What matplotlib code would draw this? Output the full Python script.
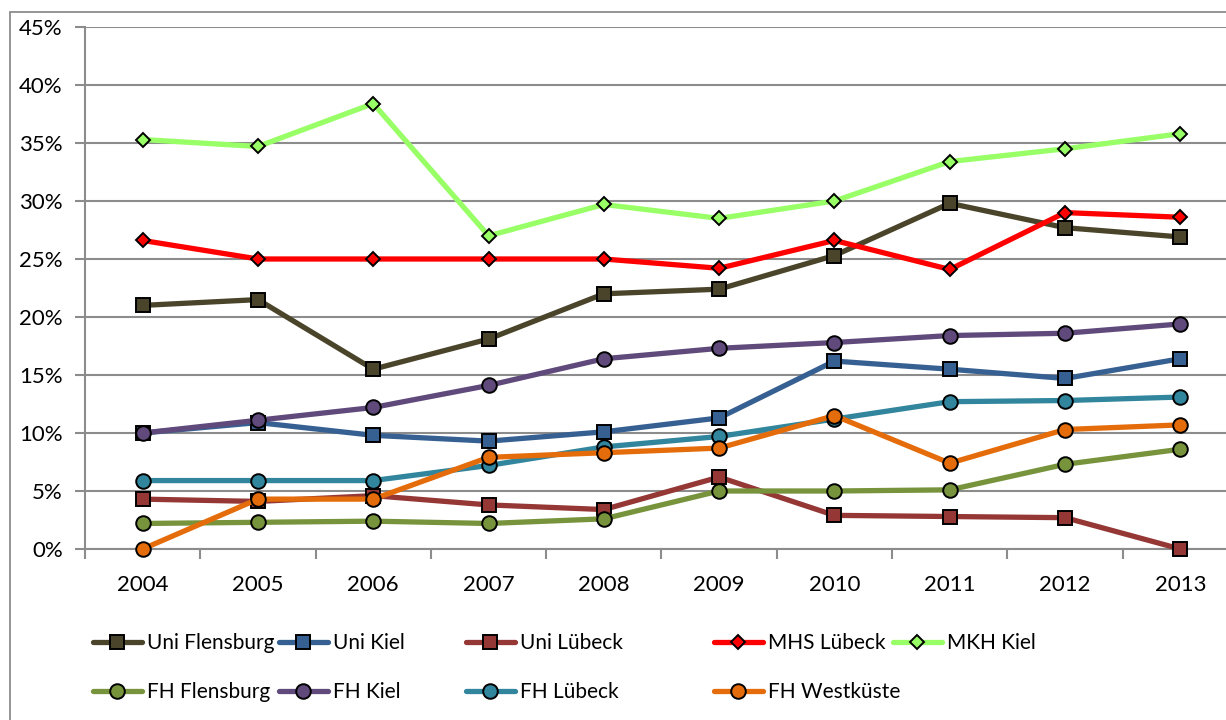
import matplotlib
matplotlib.use("Agg")
import matplotlib.pyplot as plt
from matplotlib.lines import Line2D
from matplotlib.patches import Rectangle
from matplotlib.ticker import FixedLocator, FuncFormatter

plt.rcParams['font.family'] = ['Lato', 'DejaVu Sans']

years = ["2004", "2005", "2006", "2007", "2008", "2009", "2010", "2011", "2012", "2013"]
y_ticks = [0, 5, 10, 15, 20, 25, 30, 35, 40, 45]

uni_flensburg = [21.0, 21.5, 15.5, 18.1, 22.0, 22.4, 25.3, 29.8, 27.7, 26.9]
uni_kiel = [10.0, 10.9, 9.8, 9.3, 10.1, 11.3, 16.2, 15.5, 14.7, 16.4]
uni_luebeck = [4.3, 4.1, 4.6, 3.8, 3.4, 6.2, 2.9, 2.8, 2.7, 0.0]
mhs_luebeck = [26.6, 25.0, 25.0, 25.0, 25.0, 24.2, 26.6, 24.1, 29.0, 28.6]
mkh_kiel = [35.3, 34.7, 38.4, 27.0, 29.7, 28.5, 30.0, 33.4, 34.5, 35.8]
fh_flensburg = [2.2, 2.3, 2.4, 2.2, 2.6, 5.0, 5.0, 5.1, 7.3, 8.6]
fh_kiel = [10.0, 11.1, 12.2, 14.1, 16.4, 17.3, 17.8, 18.4, 18.6, 19.4]
fh_luebeck = [5.9, 5.9, 5.9, 7.2, 8.8, 9.7, 11.2, 12.7, 12.8, 13.1]
fh_westkueste = [0.0, 4.3, 4.3, 7.9, 8.3, 8.7, 11.5, 7.4, 10.3, 10.7]

series = [
    ("Uni Flensburg", uni_flensburg, "#4A452A", "s"),
    ("Uni Kiel", uni_kiel, "#376092", "s"),
    ("Uni Lübeck", uni_luebeck, "#953735", "s"),
    ("MHS Lübeck", mhs_luebeck, "#FF0000", "D"),
    ("MKH Kiel", mkh_kiel, "#99FF66", "D"),
    ("FH Flensburg", fh_flensburg, "#77933C", "o"),
    ("FH Kiel", fh_kiel, "#604A7B", "o"),
    ("FH Lübeck", fh_luebeck, "#31859C", "o"),
    ("FH Westküste", fh_westkueste, "#E46C0A", "o"),
]

W, H = 1226, 720
fig = plt.figure(figsize=(W / 100, H / 100), dpi=100)
ax = fig.add_axes([85 / W, (H - 549) / H, 1153 / W, 522 / H])

msize = {"s": 10, "D": 7.5, "o": 10.5}
handles = []
x = list(range(len(years)))
for name, vals, color, mk in series:
    ax.plot(x, vals, color=color, lw=3.8, marker=mk, markersize=msize[mk],
            markerfacecolor=color, markeredgecolor="black", markeredgewidth=1.4,
            solid_joinstyle="round", clip_on=False, zorder=3)
    handles.append(Line2D([], [], color=color, lw=3.8, marker=mk, markersize=msize[mk],
                          markerfacecolor=color, markeredgecolor="black",
                          markeredgewidth=1.4, solid_capstyle="round"))

grid_c = "#8C8C8C"
ax.set_ylim(0, 45)
ax.set_xlim(-0.5, len(years) - 0.5)
ax.yaxis.set_major_locator(FixedLocator(y_ticks))
ax.yaxis.set_major_formatter(FuncFormatter(lambda v, p: f"{int(v)}%"))
ax.grid(axis="y", color=grid_c, lw=1.5, zorder=0)
ax.set_axisbelow(True)

ax.xaxis.set_major_locator(FixedLocator([i - 0.5 for i in range(len(years) + 1)]))
ax.xaxis.set_major_formatter(FuncFormatter(lambda v, p: ""))
ax.xaxis.set_minor_locator(FixedLocator(x))
ax.set_xticklabels(years, minor=True)
ax.tick_params(axis="x", which="major", length=7, width=1.5, color=grid_c, direction="out")
ax.tick_params(axis="x", which="minor", length=0, pad=19, labelsize=16)
ax.tick_params(axis="y", length=7, width=1.5, color=grid_c, pad=9, labelsize=16)

for s in ["top", "right"]:
    ax.spines[s].set_visible(False)
for s in ["left", "bottom"]:
    ax.spines[s].set_color(grid_c)
    ax.spines[s].set_linewidth(1.5)

# outer chart border
fig.patches.append(Rectangle((10 / W, -0.1), 2, 1.1 - 12 / H, transform=fig.transFigure,
                             fill=False, edgecolor="#8C8C8C", lw=1.3))

# legend entries placed individually
pos = [(93, 643), (279, 643), (466, 643), (714, 643), (893, 643),
       (93, 692), (279, 692), (466, 692), (714, 692)]
for (px, py), i in zip(pos, range(len(series))):
    fig.legend(handles=[handles[i]], labels=[series[i][0]], loc="center left",
               bbox_to_anchor=(px / W, 1 - py / H), frameon=False, fontsize=15,
               borderpad=0, borderaxespad=0, handlelength=2.35, handletextpad=0.25)

fig.savefig("out.png", dpi=100)
